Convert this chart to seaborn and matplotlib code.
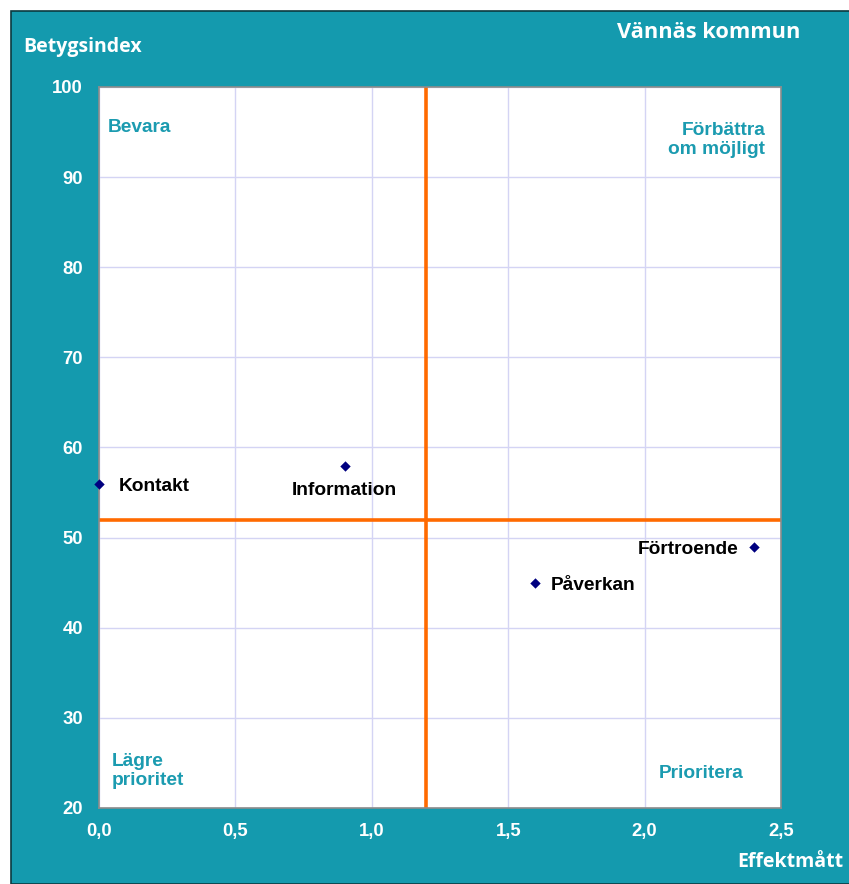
import matplotlib
matplotlib.use("Agg")
import matplotlib.pyplot as plt
import seaborn as sns
import pandas as pd
from matplotlib.patches import Rectangle

# data
omraden = ["Kontakt", "Information", "Påverkan", "Förtroende"]
effektmatt = [0.0, 0.9, 1.6, 2.4]
betygsindex = [56, 58, 45, 49]

x_ticks = [0.0, 0.5, 1.0, 1.5, 2.0, 2.5]
x_ticklabels = ["0,0", "0,5", "1,0", "1,5", "2,0", "2,5"]
y_ticks = [20, 30, 40, 50, 60, 70, 80, 90, 100]

x_split = 1.2
y_split = 52

df = pd.DataFrame({"omrade": omraden, "x": effektmatt, "y": betygsindex})

teal = "#149aae"
text_teal = "#1b9bb0"

sns.set_style("white")
plt.rcParams["font.family"] = ["Liberation Sans", "DejaVu Sans"]

fig = plt.figure(figsize=(8.49, 8.84), dpi=100)
fig.patch.set_facecolor("white")
fig.patches.append(Rectangle((11 / 849, 0), 1.0, (884 - 11) / 884, transform=fig.transFigure,
                             facecolor=teal, edgecolor="#0b3a40", linewidth=1.2, zorder=-10))

ax = fig.add_axes([99 / 849, 1 - 808 / 884, 682 / 849, 721 / 884])
ax.set_zorder(1)
ax.set_facecolor("white")

ax.set_xlim(0, 2.5)
ax.set_ylim(20, 100)
ax.set_xticks(x_ticks)
ax.set_xticklabels(x_ticklabels)
ax.set_yticks(y_ticks)
ax.grid(True, color="#d4d4f4", linewidth=1)
ax.set_axisbelow(True)

for s in ax.spines.values():
    s.set_color("#8c8c8c")
    s.set_linewidth(1.2)

ax.tick_params(axis="both", colors="#8c8c8c", direction="inout", length=5, width=1)
for lab in ax.get_xticklabels() + ax.get_yticklabels():
    lab.set_color("white")
    lab.set_fontweight("bold")
    lab.set_fontsize(13.3)
ax.tick_params(axis="y", pad=9)
ax.tick_params(axis="x", pad=8)

# quadrant lines
ax.axvline(x_split, color="#ff6a00", linewidth=2.6, zorder=2)
ax.axhline(y_split, color="#ff6a00", linewidth=2.6, zorder=2)

sns.scatterplot(data=df, x="x", y="y", ax=ax, marker="D", s=28, color="#000080",
                edgecolor="#000080", linewidth=0, zorder=3, clip_on=False)
ax.set_xlabel("")
ax.set_ylabel("")

# point labels
offsets = {
    "Kontakt": (14, -2, "left", "center"),
    "Information": (0, -18, "center", "center"),
    "Påverkan": (11, -2, "left", "center"),
    "Förtroende": (-11, -2, "right", "center"),
}
for _, r in df.iterrows():
    dx, dy, ha, va = offsets[r["omrade"]]
    ax.annotate(r["omrade"], (r["x"], r["y"]), xytext=(dx, dy), textcoords="offset points",
                ha=ha, va=va, fontsize=13.8, fontweight="bold", color="black", zorder=4)

# quadrant names
qkw = dict(transform=ax.transAxes, fontsize=13.8, fontweight="bold", color=text_teal,
           linespacing=1.2)
ax.text(9 / 682, 1 - 41 / 721, "Bevara", ha="left", va="center", **qkw)
ax.text(1 - 16 / 682, 1 - 53 / 721, "Förbättra\nom möjligt", ha="right", va="center", **qkw)
ax.text(13 / 682, 37 / 721, "Lägre\nprioritet", ha="left", va="center", **qkw)
ax.text(1 - 38 / 682, 34 / 721, "Prioritera", ha="right", va="center", **qkw)

# titles
hkw = dict(color="white", fontweight="bold", family=["Open Sans", "DejaVu Sans"])
fig.text(23 / 849, 1 - 47 / 884, "Betygsindex", ha="left", va="center", fontsize=14, **hkw)
fig.text(800 / 849, 1 - 32 / 884, "Vännäs kommun", ha="right", va="center", fontsize=15.7, **hkw)
fig.text(843 / 849, 1 - 862 / 884, "Effektmått", ha="right", va="center", fontsize=14, **hkw)

fig.savefig("out.png", dpi=100, facecolor=fig.get_facecolor())
